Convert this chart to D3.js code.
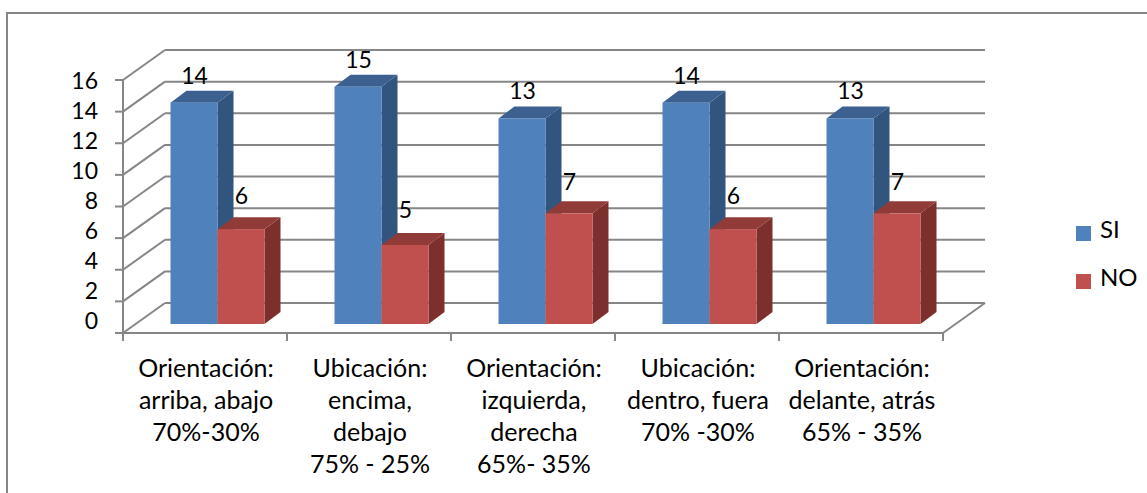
<!DOCTYPE html>
<html><head><meta charset="utf-8">
<script src="https://cdn.jsdelivr.net/npm/d3@7"></script>
<style>html,body{margin:0;padding:0;background:#fff}svg{display:block}text{font-family:Lato,"Open Sans",sans-serif;fill:#000}</style>
</head><body><svg id="c" width="1147" height="493"></svg>
<script>
const categories=[["Orientación:","arriba, abajo","70%-30%"],["Ubicación:","encima,","debajo","75% - 25%"],["Orientación:","izquierda,","derecha","65%- 35%"],["Ubicación:","dentro, fuera","70% -30%"],["Orientación:","delante, atrás","65% - 35%"]];
const si=[14,15,13,14,13];
const no=[6,5,7,6,7];
const yTicks=[0,2,4,6,8,10,12,14,16];
const seriesNames=["SI","NO"];
const colors={SI:{front:"#4f81bd",side:"#325580",top:"#3c6191"},NO:{front:"#c0504d",side:"#7c2f2d",top:"#913b39"}};
const grid="#868686";
const svg=d3.select("#c");
const y=d3.scaleLinear().domain([0,16]).range([333,80]);
const yLabel=d3.scaleLinear().domain([0,16]).range([328.5,88.5]);
const noLabelY=d3.scaleLinear().domain([5,7]).range([218,190]);
const x=d3.scaleBand().domain(d3.range(categories.length)).range([123,943]);
const wall={dx:42,dy:-30}, depth={dx:16,dy:-12}, barOff={dx:13,dy:-9}, barW=47;
const line=(a,b,c,d,w=2)=>svg.append("line").attr("x1",a).attr("y1",b).attr("x2",c).attr("y2",d).attr("stroke",grid).attr("stroke-width",w);
svg.append("path").attr("d","M7,493V13H1147").attr("fill","none").attr("stroke",grid).attr("stroke-width",2);
yTicks.forEach(t=>{
  line(123,y(t),123+wall.dx,y(t)+wall.dy);
  line(123+wall.dx,y(t)+wall.dy,943+wall.dx,y(t)+wall.dy);
  line(115,y(t),123,y(t));
  svg.append("text").attr("x",98).attr("y",yLabel(t)).attr("text-anchor","end").attr("font-size",23).text(t);
});
line(943,333,943+wall.dx,333+wall.dy);
line(123,80,123,333);
line(123,333,943,333);
d3.range(categories.length+1).forEach(i=>{const px=i<categories.length?x(i):943;line(px,333,px,341)});
function bar(px,v,c){
  const yt=y(v)+barOff.dy, yb=y(0)+barOff.dy;
  svg.append("path").attr("fill",c.side).attr("d",d3.line()([[px+barW,yt],[px+barW+depth.dx,yt+depth.dy],[px+barW+depth.dx,yb+depth.dy],[px+barW,yb]]));
  svg.append("path").attr("fill",c.top).attr("d",d3.line()([[px,yt],[px+depth.dx,yt+depth.dy],[px+barW+depth.dx,yt+depth.dy],[px+barW,yt]]));
  svg.append("rect").attr("x",px).attr("y",yt).attr("width",barW).attr("height",yb-yt).attr("fill",c.front);
}
categories.forEach((cat,i)=>{
  const px=x(i)+47.5;
  bar(px,si[i],colors.SI);
  bar(px+barW,no[i],colors.NO);
  svg.append("text").attr("x",px+24).attr("y",y(si[i])-28).attr("text-anchor","middle").attr("font-size",23).text(si[i]);
  svg.append("text").attr("x",px+barW+24).attr("y",noLabelY(no[i])).attr("text-anchor","middle").attr("font-size",23).text(no[i]);
  cat.forEach((l,j)=>svg.append("text").attr("x",x(i)+x.bandwidth()/2+1).attr("y",377+j*32).attr("text-anchor","middle").attr("font-size",25).text(l));
});
seriesNames.forEach((n,i)=>{
  const ly=226+i*48;
  svg.append("rect").attr("x",1076).attr("y",ly).attr("width",15).attr("height",15).attr("fill",colors[n].front);
  svg.append("text").attr("x",1100).attr("y",ly+12).attr("font-size",24).text(n);
});
</script></body></html>
